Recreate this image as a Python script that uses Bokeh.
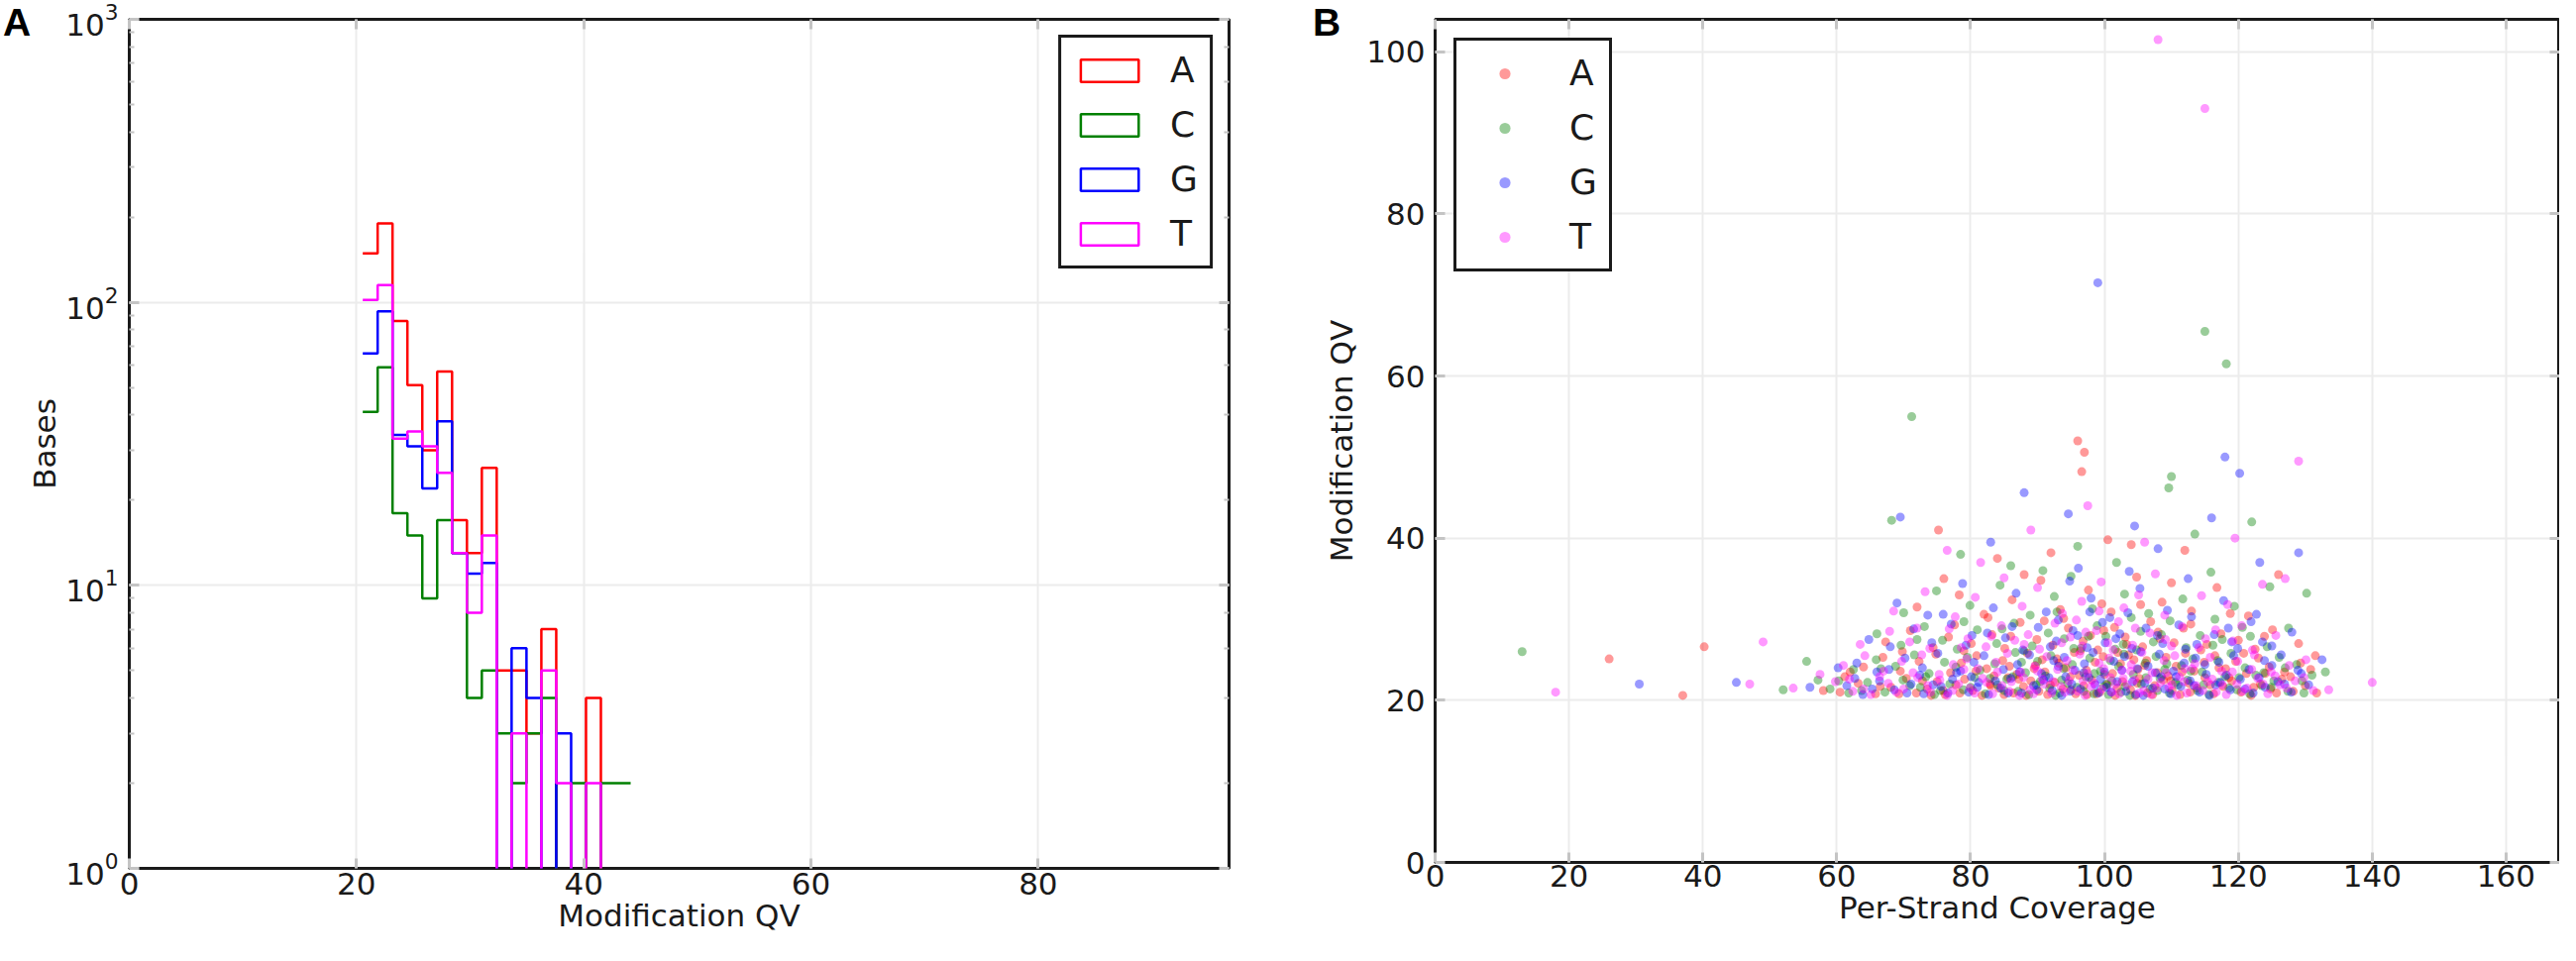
from bokeh.plotting import figure
from bokeh.layouts import row
from bokeh.models import (Legend, LegendItem, LinearAxis, LogAxis, FixedTicker, Div,
                          Range1d, CustomJSTickFormatter, LogTicker)
from bokeh.embed import file_html
from bokeh.resources import INLINE

# ---------------- data ----------------
bases = ["A", "C", "G", "T"]
colors = ["#ff0000", "#008000", "#0000ff", "#ff00ff"]
panel_letters = ["A", "B"]

# panel A: histogram of modification QV (bin edges + counts per base)
bin_edges = [20.55, 21.86, 23.17, 24.48, 25.79, 27.10, 28.41, 29.72, 31.03, 32.34,
             33.65, 34.96, 36.27, 37.58, 38.89, 40.20, 41.51, 42.82, 44.13]
counts_A = [149, 190, 86, 51, 30, 57, 17, 13, 26, 5, 5, 3, 7, 0, 0, 4, 0, 0]
counts_C = [41, 59, 18, 15, 9, 17, 13, 4, 5, 3, 2, 3, 4, 0, 2, 0, 2, 2]
counts_G = [66, 93, 34, 31, 22, 38, 13, 11, 12, 0, 6, 4, 0, 3, 0, 0, 0, 0]
counts_T = [102, 115, 33, 35, 31, 25, 13, 8, 15, 0, 3, 0, 5, 2, 0, 2, 0, 0]

histA_xticks = [0, 20, 40, 60, 80]
scatB_xticks = [0, 20, 40, 60, 80, 100, 120, 140, 160]
scatB_yticks = [0, 20, 40, 60, 80, 100]

# panel B: (per-strand coverage, modification QV) per base
pts_A = [(26.0,25.1),(37.0,20.6),(40.2,26.6),(96.0,52.0),(97.0,50.6),(96.6,48.2),(75.2,41.0),(100.5,39.8),
 (104.0,39.2),(92.0,38.2),(84.0,37.5),(112.0,38.5),(126.0,35.5),(129.0,27.0),(131.5,25.5),(58.0,21.2),(62.0,23.5),
 (60.5,21.0),(63.2,22.1),(65.8,20.8),(68.1,21.6),(70.4,22.7),(71.9,20.9),(73.5,21.4),(75.0,22.3),(76.2,20.7),
 (77.8,21.9),(79.1,22.6),(80.3,21.2),(81.7,20.6),(82.9,22.0),(84.2,21.5),(85.6,22.8),(86.4,20.9),(87.9,21.7),
 (89.0,22.4),(90.2,21.1),(91.5,20.7),(92.6,22.2),(93.8,21.4),(94.9,22.9),(95.7,20.8),(96.9,21.8),(98.1,22.5),
 (99.3,21.0),(100.4,21.9),(101.6,20.6),(102.7,22.3),(103.9,21.3),(105.2,22.7),(106.4,20.9),(107.5,21.8),(108.8,22.5),
 (110.1,21.2),(111.3,20.7),(112.6,22.1),(113.8,21.5),(115.0,22.8),(116.3,20.8),(117.7,21.7),(119.0,22.4),(120.4,21.0),
 (121.9,20.6),(123.3,22.0),(124.8,21.4),(126.5,22.6),(128.2,21.1),(130.0,21.8),(131.7,20.9),(88.3,20.6),(97.4,20.7),
 (104.6,20.6),(109.5,23.0),(83.5,23.0),(74.1,20.6),
 (64.0,24.1),(66.9,25.3),(69.5,23.6),(72.3,24.8),(74.8,25.7),(77.0,23.4),(78.6,24.6),(80.9,25.5),(82.4,23.9),
 (84.8,24.9),(86.9,23.2),(88.5,25.8),(89.7,24.3),(91.1,23.5),(92.9,25.1),(94.2,24.0),(95.5,25.9),(97.3,23.7),
 (98.6,24.7),(99.8,25.4),(101.2,23.3),(102.4,24.5),(103.6,25.6),(105.0,23.8),(106.3,24.9),(107.9,23.4),(109.2,25.3),
 (110.7,24.2),(112.1,25.8),(113.4,23.6),(114.9,24.7),(116.5,25.5),(118.1,23.9),(119.6,24.8),(121.2,23.3),(123.0,25.2),
 (124.6,24.1),(126.9,23.5),(129.3,24.6),(85.8,24.2),(96.2,23.1),(104.4,25.0),
 (67.3,27.2),(71.0,28.6),(74.4,26.5),(77.6,29.3),(80.1,27.0),(83.2,28.1),(85.1,26.4),(87.4,29.6),(89.9,27.5),
 (92.3,26.8),(94.6,28.9),(96.8,27.3),(99.0,26.2),(101.5,29.0),(103.1,27.8),(105.7,26.6),(108.0,28.4),(110.4,27.1),
 (112.9,29.4),(115.3,26.9),(117.4,28.2),(120.0,27.4),(122.5,26.3),(125.1,28.7),(91.0,29.8),(97.9,28.0),(106.9,29.7),
 (79.0,26.1),
 (72.0,31.5),(78.3,33.0),(82.0,30.6),(86.2,32.4),(90.5,34.8),(93.4,31.2),(97.6,33.6),(101.0,30.9),(104.8,35.2),
 (108.6,32.1),(113.0,31.0),(116.8,33.9),(121.5,30.4),(88.0,35.5),(99.6,31.9),(110.0,34.5),(76.0,35.0),
 (61.2,22.9),(66.5,21.7),(69.3,20.8),(72.8,22.4),(75.9,21.2),(78.4,20.9),(80.8,23.6),(83.0,21.8),(85.0,20.7),
 (87.2,22.6),(89.5,23.9),(91.9,21.9),(93.2,24.6),(95.0,21.3),(96.4,26.1),(98.8,20.8),(100.0,23.2),(101.9,21.5),
 (103.3,26.9),(104.9,22.1),(106.0,24.3),(107.2,20.7),(108.3,27.6),(109.9,22.4),(111.6,23.5),(112.8,21.0),(114.4,26.2),
 (115.8,21.9),(117.1,24.0),(118.6,22.8),(120.8,25.8),(122.3,21.6),(124.0,23.3),(125.7,20.9),(127.8,22.9),(130.8,23.8),
 (86.0,27.9),(93.9,30.1),(99.9,28.6),(105.4,31.8),(111.8,28.9),(118.8,30.7),(82.6,30.2),(76.7,27.8),(69.8,26.0),
 (123.9,27.9),(90.7,25.0),(102.0,25.9)]

pts_C = [(13.0,26.0),(71.2,55.0),(115.0,65.5),(118.2,61.5),(110.0,47.6),(109.6,46.2),(68.2,42.2),(96.0,39.0),
 (78.5,38.0),(122.0,42.0),(130.2,33.2),(52.0,21.3),(55.5,24.8),(57.2,22.5),(133.0,23.5),(101.8,37.0),(86.0,36.6),
 (113.5,40.5),
 (59.0,21.4),(61.8,20.9),(64.6,22.2),(67.2,21.0),(69.9,22.5),(72.5,21.6),(74.6,20.7),(76.9,22.0),(78.9,21.3),
 (80.6,22.8),(82.2,20.8),(84.0,21.9),(85.4,22.6),(87.1,21.1),(88.7,20.7),(90.4,22.3),(91.8,21.5),(93.3,20.9),
 (94.5,22.1),(95.9,21.6),(97.2,22.9),(98.4,20.8),(99.9,21.7),(101.1,22.4),(102.5,21.0),(103.8,20.6),(105.5,22.0),
 (106.8,21.4),(108.3,22.7),(109.7,20.9),(111.0,21.9),(112.4,22.5),(113.9,21.2),(115.6,20.7),(117.0,22.2),(118.6,21.5),
 (120.1,22.8),(121.7,20.8),(123.5,21.8),(125.3,22.4),(127.4,21.1),(129.8,20.9),(92.7,20.6),(100.6,20.7),(86.3,22.9),
 (62.5,23.8),(65.9,25.0),(68.8,24.2),(71.6,25.6),(73.8,23.3),(76.1,24.7),(79.5,25.3),(81.4,23.7),(83.6,24.5),
 (86.7,25.9),(88.2,23.4),(90.0,24.8),(92.0,25.5),(93.9,23.9),(95.2,24.4),(97.8,25.2),(99.4,23.6),(100.9,24.9),
 (102.9,25.7),(104.3,23.2),(106.1,24.6),(107.7,25.4),(109.0,23.8),(111.5,24.3),(113.2,25.1),(114.6,23.5),(116.9,24.9),
 (118.9,25.8),(121.0,24.0),(123.8,23.4),(126.1,25.3),(128.7,24.4),(131.0,23.1),
 (66.0,28.2),(69.6,26.8),(73.1,29.1),(75.8,27.4),(78.0,26.3),(81.0,28.7),(83.9,27.0),(86.5,29.5),(89.2,26.7),
 (91.6,28.3),(94.0,27.6),(96.5,26.4),(98.9,29.2),(100.2,27.9),(102.8,26.9),(105.4,28.5),(107.3,27.2),(109.8,29.8),
 (112.2,26.5),(114.3,28.0),(117.6,27.5),(120.6,29.0),(124.3,26.6),(127.5,28.9),
 (70.0,30.8),(74.9,33.5),(79.9,31.7),(84.4,34.2),(88.9,30.5),(92.5,32.8),(95.0,35.3),(98.2,31.3),(103.0,33.1),
 (106.6,30.7),(111.7,32.5),(115.9,35.8),(119.4,31.6),(124.7,34.0),(90.8,36.0),
 (60.3,22.4),(63.7,21.2),(66.6,23.9),(70.9,21.8),(73.3,22.9),(75.5,21.2),(77.8,24.1),(80.0,21.6),(82.9,22.7),
 (85.0,21.2),(87.6,24.7),(89.8,21.9),(91.2,23.0),(93.6,22.5),(95.4,26.4),(96.9,21.1),(98.5,23.3),(100.3,22.0),
 (102.1,24.2),(103.1,21.7),(104.8,26.2),(106.2,22.8),(107.9,21.2),(109.3,24.5),(110.6,22.2),(112.9,23.6),(114.8,21.9),
 (116.2,26.8),(118.0,22.9),(119.8,21.3),(122.6,23.1),(124.9,21.6),(127.0,24.0),(129.5,22.4),(84.7,28.8),(92.9,30.9),
 (97.6,27.9),(104.0,30.2),(108.5,28.1),(116.5,30.0),(79.0,29.7),(72.0,27.5),(121.8,27.9),(88.0,26.1),(101.6,26.3)]

pts_G = [(30.5,22.0),(45.0,22.2),(99.0,71.5),(118.0,50.0),(120.2,48.0),(88.0,45.6),(69.5,42.6),(129.0,38.2),
 (94.6,43.0),(104.5,41.5),(83.0,39.5),(116.0,42.5),(123.2,37.0),(132.5,25.0),(56.0,21.6),(60.2,24.0),(108.0,38.7),
 (61.5,21.8),(63.9,20.7),(66.4,22.4),(68.6,21.3),(71.1,22.0),(73.0,20.8),(75.6,21.7),(77.3,22.6),(79.7,21.0),
 (81.2,22.2),(82.7,20.7),(84.5,21.5),(86.0,22.7),(87.6,20.9),(89.4,21.8),(90.9,22.5),(92.2,21.2),(93.6,20.6),
 (95.1,22.0),(96.4,21.4),(97.7,22.8),(99.1,20.9),(100.3,21.6),(101.9,22.3),(103.2,21.1),(104.7,20.7),(106.0,22.1),
 (107.2,21.5),(108.5,22.9),(109.9,20.8),(111.4,21.7),(112.8,22.4),(114.2,21.0),(115.7,20.6),(117.3,22.2),(118.8,21.3),
 (120.3,22.6),(122.2,20.9),(124.0,21.6),(125.9,22.3),(127.9,21.0),(130.5,21.9),(94.2,22.9),(105.8,20.6),(80.1,22.9),
 (98.6,21.9),
 (63.0,24.6),(66.0,23.5),(70.2,25.2),(72.8,24.0),(75.1,25.8),(77.9,23.4),(80.5,24.7),(82.0,25.5),(84.9,23.8),
 (87.0,24.4),(88.8,25.6),(90.6,23.3),(92.4,24.9),(94.0,25.3),(95.6,23.7),(97.0,24.5),(98.3,25.9),(100.0,23.5),
 (101.4,24.8),(103.0,25.4),(104.9,23.9),(106.5,24.2),(108.2,25.7),(110.3,23.6),(111.9,24.6),(113.6,25.2),(115.2,23.2),
 (117.1,24.7),(119.3,25.5),(121.6,23.8),(123.9,24.9),(126.4,25.6),(128.9,23.7),
 (64.8,27.5),(68.0,26.6),(71.5,28.8),(74.2,27.1),(77.1,29.4),(79.3,26.8),(82.5,28.3),(85.2,27.7),(87.8,26.2),
 (90.1,29.0),(92.8,27.3),(95.3,28.6),(97.4,26.5),(99.7,29.6),(101.7,27.6),(104.1,26.4),(106.2,28.9),(108.7,27.0),
 (111.1,29.3),(113.8,26.9),(116.4,28.1),(119.0,27.2),(121.9,29.7),(125.0,26.7),(128.0,28.4),(93.1,29.9),(102.3,28.2),
 (69.0,32.0),(73.6,30.5),(78.8,34.4),(83.4,31.4),(86.8,33.2),(91.3,30.9),(94.8,34.7),(98.0,32.6),(100.8,30.2),
 (105.3,33.8),(109.4,31.1),(112.5,35.0),(117.8,32.3),(122.7,30.6),(96.1,36.3),(103.7,35.9),
 (62.7,22.7),(65.3,21.4),(67.8,23.8),(70.5,20.9),(72.4,23.1),(74.4,21.9),(76.6,20.9),(78.5,23.6),(81.0,21.6),
 (83.7,22.4),(85.6,20.9),(87.3,23.5),(89.9,21.3),(91.7,22.8),(93.1,24.2),(94.9,21.1),(96.9,23.4),(99.4,22.6),
 (101.0,21.0),(102.6,23.7),(104.2,22.3),(105.4,26.0),(107.6,23.4),(109.0,21.4),(110.7,22.9),(112.1,26.3),(113.4,21.8),
 (115.0,24.4),(116.6,21.9),(118.2,23.1),(119.9,26.4),(121.0,21.4),(123.1,22.8),(125.0,24.3),(126.9,22.0),(129.4,23.3),
 (86.2,29.1),(91.9,26.6),(96.0,28.0),(100.1,27.1),(103.5,30.8),(107.9,28.0),(113.0,30.3),(118.5,28.9),(80.2,28.0),
 (75.9,30.6),(123.6,27.2),(97.8,30.9)]

pts_T = [(18.0,21.0),(47.0,22.0),(49.0,27.2),(108.0,101.5),(115.0,93.0),(129.0,49.5),(140.0,22.2),(53.5,21.5),
 (57.5,23.2),(89.0,41.0),(76.5,38.5),(106.0,39.5),(119.5,40.0),(97.5,44.0),(127.0,35.0),(133.5,21.3),(81.5,37.0),
 (59.8,22.3),(62.4,21.1),(65.1,20.7),(67.7,22.1),(70.0,21.4),(72.1,22.8),(74.0,21.0),(76.5,20.6),(78.2,22.0),
 (79.9,21.5),(81.8,22.7),(83.3,20.8),(84.7,21.8),(86.1,22.3),(87.3,20.6),(88.9,21.3),(90.7,22.6),(92.1,20.9),
 (93.5,21.7),(94.7,22.4),(96.0,21.1),(97.1,20.6),(98.5,22.1),(99.6,21.4),(100.9,22.8),(102.2,20.8),(103.4,21.9),
 (104.5,22.5),(105.9,21.2),(107.0,20.7),(108.4,22.2),(109.6,21.6),(111.2,22.9),(112.3,20.9),(113.7,21.8),(115.4,22.3),
 (116.7,21.0),(118.2,20.7),(119.8,22.0),(121.3,21.5),(122.9,22.7),(124.4,20.8),(126.2,21.9),(128.5,22.4),(131.2,21.2),
 (91.0,22.0),(101.6,22.0),(110.8,20.6),
 (61.0,24.3),(64.2,25.5),(67.0,23.6),(69.7,24.8),(72.7,25.6),(75.3,23.2),(77.4,24.4),(79.4,25.1),(81.1,23.9),
 (83.8,24.7),(85.5,25.8),(87.5,23.5),(89.6,24.2),(91.4,25.4),(93.0,23.8),(94.4,24.9),(96.3,25.7),(97.5,23.3),
 (99.2,24.6),(100.7,25.2),(102.6,23.7),(104.0,24.4),(105.6,25.9),(107.1,23.4),(108.9,24.9),(110.5,25.5),(112.0,23.9),
 (113.5,24.5),(115.8,25.3),(117.5,23.6),(119.9,24.8),(122.4,25.6),(124.9,23.5),(127.6,24.3),(130.1,25.0),
 (63.5,26.9),(67.9,28.5),(70.9,27.2),(73.9,26.4),(76.8,28.8),(79.6,27.6),(82.3,26.6),(84.6,29.2),(86.6,27.4),
 (88.6,28.1),(90.3,26.3),(92.6,29.5),(94.9,27.8),(96.7,26.7),(98.8,28.6),(100.5,27.1),(102.1,29.7),(104.2,26.8),
 (106.8,28.3),(109.1,27.5),(111.6,29.1),(114.1,26.5),(116.6,28.7),(119.2,27.3),(122.1,26.2),(125.6,28.0),(95.8,29.9),
 (68.5,31.0),(73.2,33.4),(77.7,30.3),(80.7,32.7),(85.0,35.1),(87.7,31.6),(90.0,33.9),(93.7,30.7),(96.6,32.2),
 (99.5,34.6),(102.9,31.4),(105.1,33.0),(109.0,30.5),(114.5,32.9),(118.4,31.8),(123.6,34.3),(107.6,35.6),
 (61.9,22.6),(64.0,21.4),(66.4,22.9),(68.9,21.0),(71.4,23.4),(73.6,21.8),(75.4,22.5),(77.3,21.2),(79.0,23.8),
 (80.6,20.9),(82.4,22.2),(84.0,23.5),(85.8,21.1),(87.9,22.8),(89.4,20.8),(90.0,23.6),(92.3,22.3),(94.1,21.0),
 (95.3,23.7),(96.8,22.4),(98.0,21.7),(99.9,23.9),(101.1,21.0),(102.8,22.7),(103.9,23.6),(105.2,20.9),(106.5,22.6),
 (107.8,21.5),(109.2,23.4),(110.1,21.9),(111.9,22.3),(113.1,23.9),(114.7,21.2),(116.1,22.6),(117.6,21.9),(119.1,23.5),
 (120.6,21.1),(122.0,23.8),(123.7,22.0),(125.5,23.0),(127.2,21.5),(129.8,22.8),(88.0,26.9),(93.6,27.1),(97.2,28.4),
 (101.3,26.2),(104.6,28.9),(110.0,26.7),(115.1,27.6),(120.5,29.2),(83.1,27.9),(78.6,26.5),(72.0,28.9),(99.2,31.0)]

# ---------------- styling ----------------
FONT = "DejaVu Sans"
TXT = "#1a1a1a"
TICK_COLOR = "#c4c4c4"
GRID_COLOR = "#ececec"


def style_axis(ax, standoff, minor=False):
    ax.axis_line_color = None
    ax.major_tick_in = 10
    ax.major_tick_out = 0
    ax.major_tick_line_color = TICK_COLOR
    ax.major_tick_line_width = 3
    if minor:
        ax.minor_tick_in = 5
        ax.minor_tick_out = 0
        ax.minor_tick_line_color = TICK_COLOR
        ax.minor_tick_line_width = 2
    else:
        ax.minor_tick_line_color = None
    ax.major_label_text_font = FONT
    ax.major_label_text_font_size = "31px"
    ax.major_label_text_color = TXT
    ax.major_label_standoff = standoff
    ax.axis_label_text_font = FONT
    ax.axis_label_text_font_size = "31px"
    ax.axis_label_text_font_style = "normal"
    ax.axis_label_text_color = TXT


def blank_axis(ax, minor=False):
    style_axis(ax, 0, minor)
    ax.formatter = CustomJSTickFormatter(code="return ''")
    ax.major_label_text_font_size = "1px"


def style_frame(p):
    p.outline_line_color = "#1a1a1a"
    p.outline_line_width = 3
    p.outline_line_alpha = 1
    p.background_fill_color = "white"
    p.border_fill_color = "white"
    p.xgrid.grid_line_color = GRID_COLOR
    p.ygrid.grid_line_color = GRID_COLOR
    p.xgrid.grid_line_width = 2
    p.ygrid.grid_line_width = 2


def style_legend(leg, standoff):
    leg.border_line_color = "#1a1a1a"
    leg.border_line_width = 3
    leg.border_line_alpha = 1
    leg.background_fill_color = "white"
    leg.background_fill_alpha = 1
    leg.padding = 12
    leg.spacing = 14
    leg.glyph_width = 73
    leg.glyph_height = 28
    leg.label_standoff = standoff
    leg.label_text_font = FONT
    leg.label_text_font_size = "36px"
    leg.label_text_color = TXT


HA = 953
HB = 947

# ---------------- panel A ----------------
pA = figure(width=1290, height=HA, x_range=Range1d(0, 96.8), y_range=Range1d(1, 1000),
            y_axis_type="log", output_backend="svg", toolbar_location=None,
            min_border_left=130, min_border_right=50, min_border_top=19, min_border_bottom=HA - 19 - 857)
style_frame(pA)
pA.xaxis.ticker = FixedTicker(ticks=histA_xticks)
pA.xaxis.axis_label = "Modification QV"
pA.yaxis.axis_label = "Bases"
style_axis(pA.xaxis[0], 4)
style_axis(pA.yaxis[0], 11, minor=True)
pA.xaxis[0].axis_label_standoff = 0
pA.yaxis[0].axis_label_standoff = 0

topA = LinearAxis(ticker=FixedTicker(ticks=histA_xticks))
blank_axis(topA)
pA.add_layout(topA, "above")
rightA = LogAxis(ticker=LogTicker())
blank_axis(rightA, minor=True)
pA.add_layout(rightA, "right")

FLOOR = 0.3  # empty bins drop below the axis floor (10^0)
itemsA = []
for b, col, cnt in zip(bases, colors, [counts_A, counts_C, counts_G, counts_T]):
    xs, ys = [], []
    for i, c in enumerate(cnt):
        v = c if c > 0 else FLOOR
        xs += [bin_edges[i], bin_edges[i + 1]]
        ys += [v, v]
    pA.line(xs, ys, line_color=col, line_width=2.5)
    # hidden bar renderer, only used to draw the outlined-box legend swatch
    tops = [c if c > 0 else FLOOR for c in cnt]
    leg_r = pA.quad(left=bin_edges[:-1], right=bin_edges[1:], top=tops, bottom=FLOOR,
                    fill_alpha=0, line_color=col, line_width=2.5, visible=False)
    itemsA.append(LegendItem(label=b, renderers=[leg_r]))

legA = Legend(items=itemsA, location="top_right")
style_legend(legA, 25)
legA.margin = 16
pA.add_layout(legA)

# ---------------- panel B ----------------
pB = figure(width=1293, height=HB, x_range=Range1d(0, 168), y_range=Range1d(0, 104),
            output_backend="svg", toolbar_location=None,
            min_border_left=158, min_border_right=0, min_border_top=13, min_border_bottom=HB - 13 - 859)
style_frame(pB)
pB.xaxis.ticker = FixedTicker(ticks=scatB_xticks)
pB.yaxis.ticker = FixedTicker(ticks=scatB_yticks)
pB.xaxis.axis_label = "Per-Strand Coverage"
pB.yaxis.axis_label = "Modification QV"
style_axis(pB.xaxis[0], 2)
style_axis(pB.yaxis[0], 10)
pB.xaxis[0].axis_label_standoff = 0
pB.yaxis[0].axis_label_standoff = 4

topB = LinearAxis(ticker=FixedTicker(ticks=scatB_xticks))
blank_axis(topB)
pB.add_layout(topB, "above")
rightB = LinearAxis(ticker=FixedTicker(ticks=scatB_yticks))
blank_axis(rightB)
pB.add_layout(rightB, "right")

itemsB = []
for b, col, pts in zip(bases, colors, [pts_A, pts_C, pts_G, pts_T]):
    xs = [q[0] for q in pts]
    ys = [q[1] for q in pts]
    r = pB.scatter(xs, ys, size=9, fill_color=col, fill_alpha=0.4, line_color=None)
    itemsB.append(LegendItem(label=b, renderers=[r]))

legB = Legend(items=itemsB, location="top_left")
style_legend(legB, 29)
legB.margin = 19
pB.add_layout(legB)

# panel letters, overlaid at the top-left of each panel
letter_style = {"position": "absolute", "top": "1px", "margin": "0", "padding": "0",
                "font-family": "'Liberation Sans', Arial, sans-serif", "font-weight": "bold",
                "font-size": "39px", "line-height": "normal", "color": "black"}
divA = Div(text=panel_letters[0], styles=dict(letter_style, left="3px"))
divB = Div(text=panel_letters[1], styles=dict(letter_style, left="1325px"))

layout = row(pA, pB)
open("out.html", "w").write(file_html([layout, divA, divB], INLINE))
